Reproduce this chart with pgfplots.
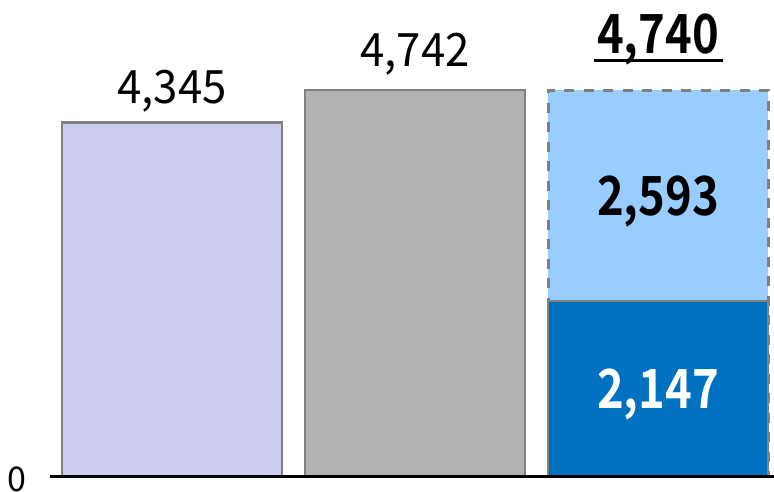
\documentclass[border=0pt]{standalone}
\usepackage{graphicx}
\usepackage{pgfplots}
\pgfplotsset{compat=1.18}
\usepackage{fontspec}
\setmainfont{Noto Sans CJK JP}[BoldFont={Noto Sans CJK JP Bold}]

\definecolor{lav}{RGB}{204,204,238}
\definecolor{midgray}{RGB}{178,178,178}
\definecolor{edge}{RGB}{128,128,128}
\definecolor{deepblue}{RGB}{0,112,192}
\definecolor{skyblue}{RGB}{153,204,255}

\newcommand{\reglab}[1]{\fontsize{46}{50}\selectfont\scalebox{0.95}[1]{#1}}
\newcommand{\boldlab}[1]{\fontsize{54}{58}\selectfont\bfseries\scalebox{0.84}[1]{#1}}

\begin{document}
\begin{tikzpicture}[x=1pt,y=1pt]
\useasboundingbox (0,0) rectangle (774,491);
\begin{axis}[
  at={(50pt,15pt)}, anchor=south west,
  scale only axis, width=724pt, height=476pt,
  xmin=-0.502, xmax=2.477, ymin=0, ymax=5848,
  axis lines*=left,
  y axis line style={draw=none},
  x axis line style={black, line width=3pt},
  xtick=\empty, ytick={0},
  major tick length=0pt,
  /pgf/number format/assume math mode=true,
  yticklabel style={font=\fontsize{34}{36}\selectfont, anchor=base east, xshift=-20pt, yshift=-15pt},
  ybar, bar width=0.905, bar shift=0pt,
  axis on top, clip=false,
  every node/.style={inner sep=0pt},
]
% single bars
\addplot[fill=lav, draw=edge, line width=2.5pt] coordinates {(0,4345)};
\addplot[fill=midgray, draw=edge, line width=2.5pt] coordinates {(1,4742)};
% split bar: total (dashed outline), then the lower part over it
\addplot[fill=skyblue, draw=edge, line width=3pt, dash pattern=on 10pt off 9.5pt] coordinates {(2,4740)};
\addplot[fill=deepblue, draw=edge, line width=2.5pt] coordinates {(2,2147)};

\node[anchor=base, yshift=19pt] at (axis cs:0,4345) {\reglab{4,345}};
\node[anchor=base, yshift=24pt] at (axis cs:1,4742) {\reglab{4,742}};
\node[anchor=base, yshift=37pt] (tot) at (axis cs:2,4740) {\boldlab{4,740}};
\draw[line width=3pt] ([yshift=-7.5pt]tot.base west) -- ([yshift=-7.5pt]tot.base east);
\node[yshift=-6pt] at (axis cs:2,{(2147+4740)/2}) {\boldlab{2,593}};
\node[yshift=-6pt, text=white] at (axis cs:2,{2147/2}) {\boldlab{2,147}};
\end{axis}
\end{tikzpicture}
\end{document}
